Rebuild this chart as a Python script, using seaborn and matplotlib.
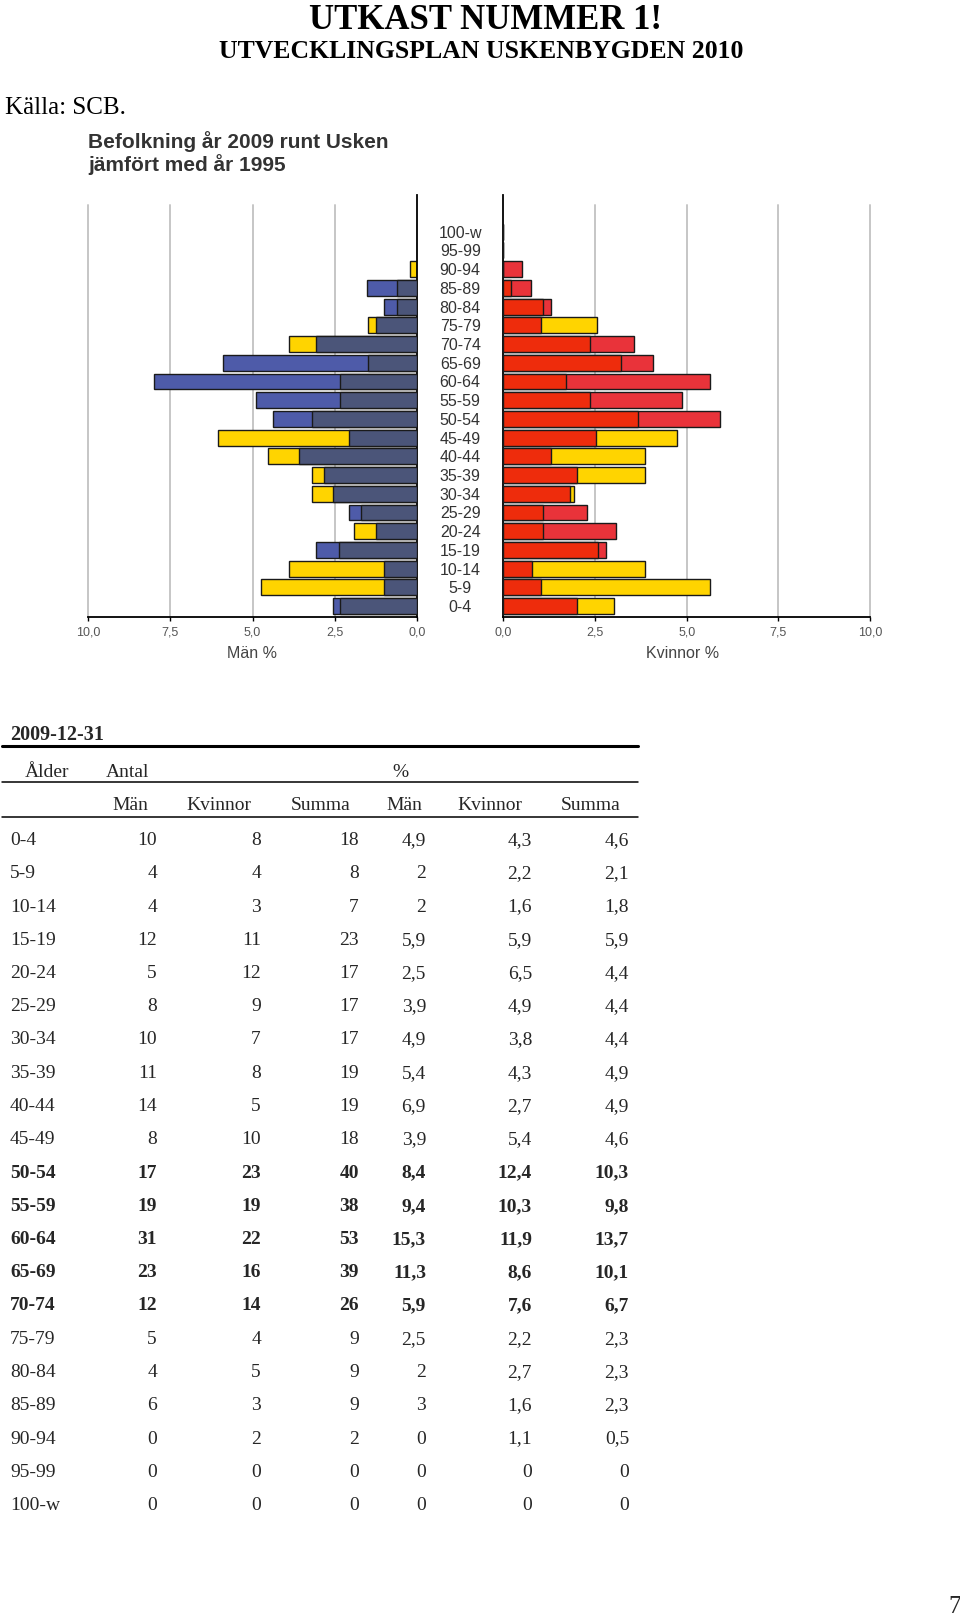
import numpy as np
import pandas as pd
import matplotlib
matplotlib.use("Agg")
import matplotlib.pyplot as plt
from matplotlib.lines import Line2D
import seaborn as sns

# ---------------- data ----------------
ages = ['100-w', '95-99', '90-94', '85-89', '80-84', '75-79', '70-74', '65-69',
        '60-64', '55-59', '50-54', '45-49', '40-44', '35-39', '30-34', '25-29',
        '20-24', '15-19', '10-14', '5-9', '0-4']

# percent of total population (chart)
men_2009 = [0, 0, 0, 1.53, 1.00, 1.25, 3.07, 5.91, 7.98, 4.89, 4.37, 2.06,
            3.60, 2.83, 2.56, 2.06, 1.25, 3.07, 1.00, 1.00, 2.56]
men_1995 = [0, 0, 0.2, 0.62, 0.62, 1.48, 3.88, 1.48, 2.34, 2.34, 3.20, 6.06,
            4.52, 3.19, 3.19, 1.71, 1.91, 2.36, 3.88, 4.74, 2.34]
women_2009 = [0, 0, 0.51, 0.76, 1.29, 1.03, 3.57, 4.09, 5.64, 4.86, 5.91, 2.53,
              1.29, 2.02, 1.82, 2.29, 3.06, 2.80, 0.77, 1.03, 2.02]
women_1995 = [0, 0, 0, 0.21, 1.07, 2.56, 2.37, 3.22, 1.71, 2.37, 3.66, 4.73,
              3.86, 3.86, 1.93, 1.07, 1.07, 2.59, 3.86, 5.64, 3.02]

x_ticks = [0, 2.5, 5, 7.5, 10]
x_ticklabels = ['0,0', '2,5', '5,0', '7,5', '10,0']

# table
tab_age = ['0-4', '5-9', '10-14', '15-19', '20-24', '25-29', '30-34', '35-39',
           '40-44', '45-49', '50-54', '55-59', '60-64', '65-69', '70-74',
           '75-79', '80-84', '85-89', '90-94', '95-99', '100-w']
antal_man = [10, 4, 4, 12, 5, 8, 10, 11, 14, 8, 17, 19, 31, 23, 12, 5, 4, 6, 0, 0, 0]
antal_kv = [8, 4, 3, 11, 12, 9, 7, 8, 5, 10, 23, 19, 22, 16, 14, 4, 5, 3, 2, 0, 0]
antal_sum = [18, 8, 7, 23, 17, 17, 17, 19, 19, 18, 40, 38, 53, 39, 26, 9, 9, 9, 2, 0, 0]
pct_man = [4.9, 2, 2, 5.9, 2.5, 3.9, 4.9, 5.4, 6.9, 3.9, 8.4, 9.4, 15.3, 11.3,
           5.9, 2.5, 2, 3, 0, 0, 0]
pct_kv = [4.3, 2.2, 1.6, 5.9, 6.5, 4.9, 3.8, 4.3, 2.7, 5.4, 12.4, 10.3, 11.9,
          8.6, 7.6, 2.2, 2.7, 1.6, 1.1, 0, 0]
pct_sum = [4.6, 2.1, 1.8, 5.9, 4.4, 4.4, 4.4, 4.9, 4.9, 4.6, 10.3, 9.8, 13.7,
           10.1, 6.7, 2.3, 2.3, 2.3, 0.5, 0, 0]
bold_rows = ['50-54', '55-59', '60-64', '65-69', '70-74']

# ---------------- style ----------------
sns.set_theme(style="white")
plt.rcParams['font.family'] = ['Liberation Sans', 'DejaVu Sans']
SERIF = ['Liberation Serif', 'DejaVu Serif']

W, H = 960, 1616
fig = plt.figure(figsize=(W / 100, H / 100), dpi=100)
fig.patch.set_facecolor('white')


def fx(x):
    return x / W


def fy(y):
    return 1 - y / H


YELLOW = '#ffd400'
MEN_DARK = '#4b5579'
MEN_EXTRA = '#4e5ba9'
WOM_DARK = '#ee2c0c'
WOM_EXTRA = '#e9333a'
EDGE = '#1a1a1a'
GRID = '#c6c6c6'

y_top, y_bot = 195, 617
row0, row_step = 231.7, 18.72
ylim = ((y_bot - row0) / row_step, (y_top - row0) / row_step)

axL = fig.add_axes([fx(88), fy(y_bot), (417 - 88) / W, (y_bot - y_top) / H])
axR = fig.add_axes([fx(503.3), fy(y_bot), (870 - 503.3) / W, (y_bot - y_top) / H])


def pyramid(ax, v2009, v1995, dark, extra):
    df = pd.DataFrame({'age': ages, 'v2009': v2009, 'v1995': v1995})
    df['hi'] = df[['v2009', 'v1995']].max(axis=1)
    df['lo'] = df[['v2009', 'v1995']].min(axis=1)
    pal = {a: (extra if n >= o else YELLOW)
           for a, n, o in zip(df['age'], df['v2009'], df['v1995'])}
    sns.barplot(data=df, x='hi', y='age', hue='age', palette=pal, order=ages,
                hue_order=ages, orient='h', width=0.85, saturation=1,
                errorbar=None, edgecolor=EDGE, linewidth=1.0, legend=False,
                ax=ax, zorder=2)
    sns.barplot(data=df, x='lo', y='age', color=dark, order=ages, orient='h',
                width=0.85, saturation=1, errorbar=None, edgecolor=EDGE,
                linewidth=1.0, ax=ax, zorder=3)
    ax.set_ylim(*ylim)
    frac = (y_bot - 205) / (y_bot - y_top)
    for g in [2.5, 5, 7.5, 10]:
        ax.axvline(g, ymin=0, ymax=frac, color=GRID, lw=1.4, zorder=0.5,
                   clip_on=False)
    ax.set_xticks(x_ticks)
    ax.set_xticklabels(x_ticklabels)
    ax.tick_params(axis='x', direction='out', length=3, width=1, color='black',
                   labelsize=9, labelcolor='#555555', pad=4, bottom=True)
    ax.set_xlabel('')
    ax.set_ylabel('')
    ax.set_facecolor('none')
    for s in ax.spines.values():
        s.set_color('black')
        s.set_linewidth(1.3)
    ax.spines['top'].set_visible(False)


pyramid(axL, men_2009, men_1995, MEN_DARK, MEN_EXTRA)
pyramid(axR, women_2009, women_1995, WOM_DARK, WOM_EXTRA)

axL.set_xlim(10, 0)
axL.spines['left'].set_visible(False)
axL.set_yticks([])
axR.set_xlim(0, 10)
axR.spines['right'].set_visible(False)
axR.tick_params(axis='y', length=0, pad=31, labelsize=11.5, labelcolor='#333333')
for lab in axR.get_yticklabels():
    lab.set_horizontalalignment('center')

fig.text(fx(252), fy(653), 'Män %', ha='center', va='center', size=11.5,
         color='#444444')
fig.text(fx(683), fy(653), 'Kvinnor %', ha='center', va='center', size=11.5,
         color='#444444')

# chart title
fig.text(fx(88), fy(148.5), 'Befolkning år 2009 runt Usken', ha='left',
         va='baseline', size=15, weight='bold', color='#333333')
fig.text(fx(88), fy(171), 'jämfört med år 1995', ha='left', va='baseline',
         size=15, weight='bold', color='#333333')

# page header
fig.text(fx(485), fy(29), 'UTKAST NUMMER 1!', ha='center', va='baseline',
         size=25, weight='bold', family=SERIF, color='black')
fig.text(fx(481.5), fy(57.7), 'UTVECKLINGSPLAN USKENBYGDEN 2010', ha='center',
         va='baseline', size=18.5, weight='bold', family=SERIF, color='black')
fig.text(fx(5), fy(114), 'Källa: SCB.', ha='left', va='baseline', size=18,
         family=SERIF, color='black')

# ---------------- table ----------------
TS = 14
fig.text(fx(10), fy(740), '2009-12-31', ha='left', va='baseline', size=14.5,
         weight='bold', family=SERIF)
for yy, lw in [(745.6, 2.2), (781.5, 1.1), (816.5, 1.1)]:
    fig.add_artist(Line2D([fx(2), fx(638)], [fy(yy), fy(yy)], color='black',
                          lw=lw, transform=fig.transFigure))

fig.text(fx(25), fy(776.5), 'Ålder', ha='left', va='baseline', size=TS,
         family=SERIF)
fig.text(fx(106), fy(776.5), 'Antal', ha='left', va='baseline', size=TS,
         family=SERIF)
fig.text(fx(400), fy(776.5), '%', ha='center', va='baseline', size=TS,
         family=SERIF)
for txt, xr in [('Män', 148), ('Kvinnor', 251), ('Summa', 350),
                ('Män', 422), ('Kvinnor', 522), ('Summa', 621)]:
    fig.text(fx(xr), fy(810.5), txt, ha='right', va='baseline', size=TS,
             family=SERIF)


def fmt(v):
    return f"{v:g}".replace('.', ',')


col_right = [157, 261, 359, 426, 532, 629]
for i, a in enumerate(tab_age):
    yb = 845 + 33.25 * i
    w = 'bold' if a in bold_rows else 'normal'
    fig.text(fx(10), fy(yb), a, ha='left', va='baseline', size=TS,
             family=SERIF, weight=w)
    vals = [str(antal_man[i]), str(antal_kv[i]), str(antal_sum[i]),
            fmt(pct_man[i]), fmt(pct_kv[i]), fmt(pct_sum[i])]
    for v, xr in zip(vals, col_right):
        fig.text(fx(xr), fy(yb), v, ha='right', va='baseline', size=TS,
                 family=SERIF, weight=w)

fig.text(fx(948), fy(1613), '7', ha='left', va='baseline', size=18,
         family=SERIF)

fig.savefig('out.png', dpi=100, facecolor='white')
